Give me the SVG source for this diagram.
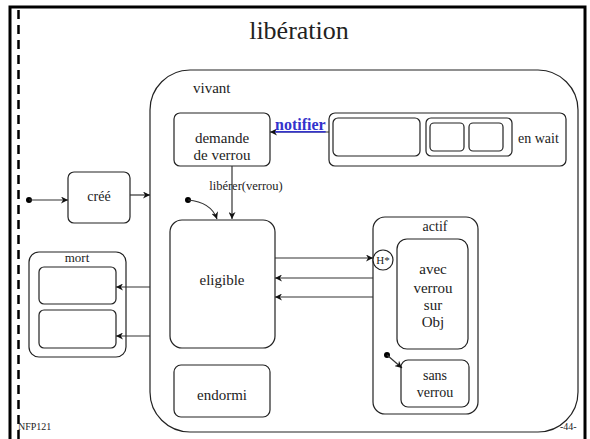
<svg xmlns="http://www.w3.org/2000/svg" width="590" height="439" viewBox="0 0 590 439">
<defs>
<marker id="ah" viewBox="0 0 10 10" refX="10" refY="5" markerWidth="7" markerHeight="7" orient="auto" markerUnits="userSpaceOnUse">
<path d="M0,0 L10,5 L0,10 L3,5 Z" fill="#111"/>
</marker>
</defs>
<style>
.box{fill:#fff;stroke:#222;stroke-width:1.2}
.cn{fill:none;stroke:#333;stroke-width:1.2}
text{font-family:'Liberation Serif','Times New Roman',serif;fill:#222}
.t{text-anchor:middle}
.dot{fill:#000}
</style>
<rect x="0" y="0" width="590" height="439" fill="#fff"/>
<g id="frame">
<path d="M10,445 L10,7 L585,7 L585,445" fill="none" stroke="#000" stroke-width="3"/>
<line x1="18.5" y1="10" x2="18.5" y2="439" stroke="#000" stroke-width="2.5" stroke-dasharray="9,6"/>
</g>
<text class="t" x="299" y="39" font-size="26" font-family="Liberation Serif, serif">libération</text>
<g id="vivant" font-family="Liberation Serif, serif">
<rect class="box" x="150" y="70" width="428" height="362" rx="40" ry="40"/>
<text x="193" y="93" font-size="15">vivant</text>
</g>
<g id="demande" font-family="Liberation Serif, serif">
<rect class="box" x="174" y="113" width="96" height="53" rx="6"/>
<text class="t" x="222" y="143" font-size="15">demande</text>
<text class="t" x="222" y="160" font-size="15">de verrou</text>
</g>
<g id="enwait" font-family="Liberation Serif, serif">
<rect class="box" x="329" y="113" width="237" height="53" rx="6"/>
<rect class="box" x="333" y="118" width="87" height="38" rx="5"/>
<rect class="box" x="426" y="118" width="86" height="38" rx="5"/>
<rect class="box" x="430" y="123" width="34" height="28" rx="4"/>
<rect class="box" x="469" y="123" width="34" height="28" rx="4"/>
<text x="518" y="143" font-size="14">en wait</text>
</g>
<g id="cree" font-family="Liberation Serif, serif">
<rect class="box" x="68" y="172" width="62" height="51" rx="6"/>
<text class="t" x="99" y="201" font-size="14">créé</text>
</g>
<g id="eligible" font-family="Liberation Serif, serif">
<rect class="box" x="170" y="220" width="105" height="128" rx="12"/>
<text class="t" x="222" y="285" font-size="15">eligible</text>
</g>
<g id="endormi" font-family="Liberation Serif, serif">
<rect class="box" x="174" y="365" width="96" height="52" rx="7"/>
<text class="t" x="222" y="400" font-size="15">endormi</text>
</g>
<g id="mort" font-family="Liberation Serif, serif">
<rect class="box" x="29" y="252" width="97" height="105" rx="10"/>
<text class="t" x="77" y="262" font-size="13">mort</text>
<rect class="box" x="39" y="267" width="77" height="37" rx="5"/>
<rect class="box" x="39" y="310" width="77" height="38" rx="5"/>
</g>
<g id="actif" font-family="Liberation Serif, serif">
<rect class="box" x="373" y="217" width="105" height="197" rx="12"/>
<text class="t" x="435" y="231" font-size="14">actif</text>
<rect class="box" x="397" y="239" width="71" height="110" rx="10"/>
<text class="t" x="433" y="274" font-size="15">avec</text>
<text class="t" x="433" y="293" font-size="15">verrou</text>
<text class="t" x="433" y="310" font-size="15">sur</text>
<text class="t" x="433" y="327" font-size="15">Obj</text>
<rect class="box" x="401" y="360" width="68" height="47" rx="7"/>
<text class="t" x="435" y="380" font-size="14">sans</text>
<text class="t" x="435" y="397" font-size="14">verrou</text>
<circle class="box" cx="383" cy="260" r="10"/>
<text class="t" x="383" y="264" font-size="11">H*</text>
</g>
<g id="connectors">
<circle class="dot" cx="29" cy="200" r="3"/>
<line class="cn" x1="29" y1="200" x2="68" y2="200" marker-end="url(#ah)"/>
<line class="cn" x1="130" y1="195" x2="150" y2="195" marker-end="url(#ah)"/>
<line class="cn" x1="329" y1="132" x2="270" y2="132" marker-end="url(#ah)"/>
<line class="cn" x1="232" y1="166" x2="232" y2="219" marker-end="url(#ah)"/>
<circle class="dot" cx="188" cy="200" r="3"/>
<path class="cn" d="M188,200 Q211,202 217,219" marker-end="url(#ah)"/>
<line class="cn" x1="275" y1="258" x2="373" y2="258" marker-end="url(#ah)"/>
<line class="cn" x1="373" y1="278" x2="275" y2="278" marker-end="url(#ah)"/>
<line class="cn" x1="373" y1="297" x2="275" y2="297" marker-end="url(#ah)"/>
<line class="cn" x1="150" y1="287" x2="116" y2="287" marker-end="url(#ah)"/>
<line class="cn" x1="150" y1="336" x2="116" y2="336" marker-end="url(#ah)"/>
<circle class="dot" cx="387" cy="355" r="3"/>
<line class="cn" x1="387" y1="355" x2="402" y2="368" marker-end="url(#ah)"/>
<text x="275" y="130" font-family="Liberation Serif, serif" font-size="16" font-weight="bold" fill="#3333cc" style="fill:#3333cc" text-decoration="underline">notifier</text>
<text class="t" x="246" y="190" font-size="12.5" font-family="Liberation Serif, serif">libérer(verrou)</text>
</g>
<text x="18" y="430" font-size="10" font-family="Liberation Serif, serif">NFP121</text>
<text x="560" y="430" font-size="10" font-family="Liberation Serif, serif">-44-</text>
</svg>
